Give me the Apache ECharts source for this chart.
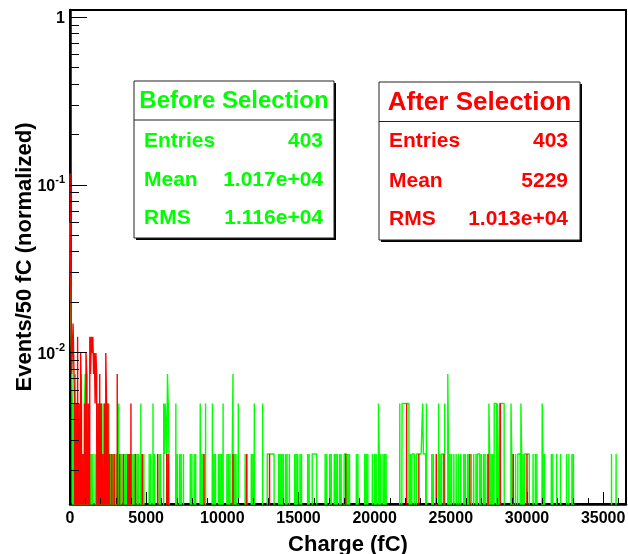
<!DOCTYPE html>
<html><head><meta charset="utf-8">
<script src="https://cdn.jsdelivr.net/npm/echarts@6/dist/echarts.min.js"></script>
<style>html,body{margin:0;padding:0;background:#fff}#c{width:628px;height:554px}</style>
</head><body><div id="c"></div>
<script>
// ---- data ----
const BIN_WIDTH = 50;          // fC per bin
const N_BINS = 730;            // 0 .. 36500 fC
const ENTRIES = 403;           // normalisation (entries)
const Y_MIN = 0.00125, Y_MAX = 1.1;
const X_MAX = 36500;
const EMPTY = 1e-6;            // empty bin, below the visible range

const xMinorTickValues = [1000,2000,3000,4000,6000,7000,8000,9000,11000,12000,13000,14000,16000,17000,18000,19000,21000,22000,23000,24000,26000,27000,28000,29000,31000,32000,33000,34000,36000];
const yMajorTickValues = [0.01, 0.1, 1];
const yMinorTickValues = [0.002,0.003,0.004,0.005,0.006,0.007,0.008,0.009,0.02,0.03,0.04,0.05,0.06,0.07,0.08,0.09,0.2,0.3,0.4,0.5,0.6,0.7,0.8,0.9];

// [bin index, entries] "Before Selection"
const greenCounts = [
[0,24],[1,6],[2,4],[3,2],[5,2],[7,3],[9,1],[10,2],[12,1],[14,2],[15,3],[17,1],[19,2],[20,3],[22,3],[24,1],[26,1],[28,1],[30,1],[31,1],[33,1],[35,1],[37,2],[38,2],[40,2],[42,2],[43,2],[45,2],[47,1],[49,2],[51,2],[53,1],[55,1],[57,1],[59,1],[61,1],[64,2],[66,1],[68,1],[69,1],[71,1],[73,1],[75,1],[77,1],[79,1],
[81,1],[83,1],[85,1],[86,1],[88,1],[90,1],[91,1],[93,2],[95,1],[97,1],[98,1],[104,1],[106,1],[107,1],[109,2],[111,1],[112,1],[117,1],[119,1],[123,2],[124,1],[125,2],[126,2],[127,1],[128,3],[129,2],[130,1],[139,2],[141,1],[142,1],[144,1],[146,1],[147,1],[149,1],[158,1],[160,1],[161,1],[163,1],[165,1],[171,2],[173,1],[175,1],[176,1],[178,2],[187,2],[189,1],[191,1],[192,1],[195,1],[197,1],[199,1],[201,2],[206,1],[208,1],[210,1],[213,1],[214,3],[216,1],[218,1],[219,1],[221,2],[230,1],[232,1],[233,1],[238,1],[240,1],[242,2],
[253,2],[259,1],[260,1],[261,1],[262,1],[263,1],[264,1],[265,1],[266,1],[267,1],[274,1],[276,1],[278,1],[280,1],[281,1],[283,1],[285,1],[286,1],[288,1],[289,1],[295,1],[297,1],[299,1],[302,1],[304,1],[312,1],[314,1],[318,1],[319,1],[320,1],[321,1],[322,1],[323,1],[335,1],[337,1],[341,1],[343,1],[344,1],[347,1],[349,1],[351,1],[352,1],[354,1],[356,1],[357,1],[360,1],[361,1],[362,1],[363,1],[365,1],[367,1],[376,1],[378,1],[379,1],[387,1],[389,1],[391,1],[397,1],[398,1],[400,1],[402,1],[403,1],[405,2],[406,1],[408,1],[409,1],[411,1],[413,1],[415,1],[416,1],[433,2],[436,2],[437,2],[438,2],[439,2],[440,2],[441,2],[442,2],[443,2],[444,2],[445,1],[447,1],[449,1],[450,1],[451,1],[455,1],[456,1],[457,1],[458,1],[459,1],[460,1],[461,1],[462,1],[463,2],[464,1],[465,1],[466,1],[468,2],[475,1],[477,1],[481,1],[482,1],[484,2],[486,1],
[488,1],[489,1],[490,1],[492,2],[496,3],[497,1],[499,1],[501,1],[504,1],[505,1],[507,1],[508,1],[510,1],[511,1],[513,1],[517,1],[519,1],[520,1],[522,1],[524,1],[525,1],[527,1],[528,1],[530,1],[531,1],[533,1],[535,1],[536,1],[537,1],[540,1],[541,1],[543,1],[545,1],[546,1],[548,1],[550,2],[551,1],[553,1],[555,1],[557,2],[558,2],[559,2],[561,2],[562,1],[564,2],[565,2],[566,2],[567,2],[568,2],[569,2],[570,1],[571,1],[579,2],[580,1],[582,1],[583,1],[585,1],[588,1],[589,1],[590,1],[592,2],[593,1],[595,1],[597,1],[598,1],[599,1],[600,1],[601,1],[602,1],[608,1],[609,1],[611,1],[613,1],[614,1],[620,2],[621,1],[623,1],[632,1],[634,1],[639,1],[644,1],[652,1],[653,1],[655,1],[659,1],[661,1],[711,1],[717,1]
];

// [bin index, entries] "After Selection"
const redCounts = [
[0,47],[1,11],[2,3],[3,4],[4,6],[5,6],[6,2],[8,2],[10,5],[12,2],[14,4],[15,2],[17,1],[19,2],[21,4],[22,3],[24,2],[26,5],[27,3],[28,5],[29,4],[30,5],[31,3],[32,4],[33,2],[34,4],[35,3],[37,2],[39,3],[41,2],[43,1],[45,2],[47,4],[48,2],[50,2],[52,1],[55,1],[58,1],[62,3],[65,1],[70,1],[76,1],[78,1],[80,2],[86,1],[95,1],[115,1],[127,1],[129,1],[130,1],[176,1],[214,1],[232,1],[262,1],[362,1],[442,2],[458,1],[481,1],[491,1],[525,1],[549,1],[565,2],[582,1],[600,1],[601,1]
];

const statNames = ['Entries', 'Mean', 'RMS'];
const beforeStats = ['403', '1.017e+04', '1.116e+04'];
const afterStats = ['403', '5229', '1.013e+04'];

// ---- build ----
function histLine(counts) {
  const per = new Array(N_BINS).fill(0);
  counts.forEach(([b, c]) => { per[b] = c; });
  const pts = [];
  for (let i = 0; i < N_BINS; i++) pts.push([i * BIN_WIDTH, per[i] > 0 ? per[i] / ENTRIES : EMPTY]);
  pts.push([N_BINS * BIN_WIDTH, EMPTY]);
  return pts;
}

const FONT = "'Liberation Sans', Arial, Helvetica, sans-serif";
const GREEN = '#00ff00', RED = '#ff0000';

function statBox(left, top, w, h, sepY, title, titleSize, values, color, rowYs, textL, textR) {
  const els = [];
  els.push({ type: 'rect', shape: { x: left + 2, y: top + 2, width: w, height: h }, style: { fill: '#000' }, z: 100 });
  els.push({ type: 'rect', shape: { x: left, y: top, width: w, height: h }, style: { fill: '#fff', stroke: '#222', lineWidth: 1 }, z: 101 });
  els.push({ type: 'line', shape: { x1: left, y1: sepY, x2: left + w, y2: sepY }, style: { stroke: '#222', lineWidth: 1 }, z: 102 });
  els.push({ type: 'text', x: left + w / 2, y: (top + sepY) / 2 + 1, z: 103,
    style: { text: title, fill: color, font: 'bold ' + titleSize + 'px ' + FONT, textAlign: 'center', textVerticalAlign: 'middle', align: 'center', verticalAlign: 'middle' } });
  statNames.forEach((n, i) => {
    els.push({ type: 'text', x: textL, y: rowYs[i], z: 103,
      style: { text: n, fill: color, font: 'bold 21px ' + FONT, textAlign: 'left', textVerticalAlign: 'middle', align: 'left', verticalAlign: 'middle' } });
    els.push({ type: 'text', x: textR, y: rowYs[i], z: 103,
      style: { text: values[i], fill: color, font: 'bold 21px ' + FONT, textAlign: 'right', textVerticalAlign: 'middle', align: 'right', verticalAlign: 'middle' } });
  });
  return els;
}

const chart = echarts.init(document.getElementById('c'), null, { renderer: 'canvas' });
chart.setOption({
  animation: false,
  backgroundColor: '#fff',
  grid: { left: 70, right: 2, top: 10, bottom: 50, show: true, borderColor: '#000', borderWidth: 2, backgroundColor: 'transparent', outerBoundsMode: 'none', containLabel: false },
  xAxis: {
    type: 'value', min: 0, max: X_MAX, interval: 5000,
    name: 'Charge (fC)', nameLocation: 'middle', nameGap: 30, nameMoveOverlap: false,
    nameTextStyle: { fontFamily: FONT, fontWeight: 'bold', fontSize: 22, color: '#000' },
    axisLine: { show: true, lineStyle: { color: '#000', width: 2.5 } },
    axisTick: { show: true, inside: true, length: 12, lineStyle: { color: '#000', width: 1 } },
    axisLabel: { fontFamily: FONT, fontWeight: 'bold', fontSize: 16, color: '#000', margin: 7, showMaxLabel: false, formatter: v => String(v) },
    splitLine: { show: false }
  },
  yAxis: {
    type: 'log', min: Y_MIN, max: Y_MAX, logBase: 10,
    name: 'Events/50 fC (normalized)', nameLocation: 'middle', nameGap: 34, nameMoveOverlap: false,
    nameTextStyle: { fontFamily: FONT, fontWeight: 'bold', fontSize: 22, color: '#000' },
    axisLine: { show: true, lineStyle: { color: '#000', width: 2.5 } },
    axisTick: { show: false },
    axisLabel: {
      margin: 5, color: '#000',
      formatter: v => {
        const l = Math.log10(v), e = Math.round(l);
        if (Math.abs(l - e) > 1e-6) return '';
        if (e === 0) return '{b|1}';
        return '{b|10}{s|' + e + '}';
      },
      rich: {
        b: { fontFamily: FONT, fontWeight: 'bold', fontSize: 16, color: '#000', lineHeight: 20, verticalAlign: 'bottom' },
        s: { fontFamily: FONT, fontWeight: 'bold', fontSize: 11, color: '#000', lineHeight: 12, verticalAlign: 'top' }
      }
    },
    splitLine: { show: false }
  },
  series: [
    { type: 'line', name: 'Before Selection', data: histLine(greenCounts), step: 'end', showSymbol: false, symbol: 'none',
      lineStyle: { color: GREEN, width: 1.4 }, itemStyle: { color: GREEN }, clip: true, silent: true, z: 2 },
    { type: 'line', name: 'After Selection', data: histLine(redCounts), step: 'end', showSymbol: false, symbol: 'none',
      lineStyle: { color: RED, width: 1.4 }, itemStyle: { color: RED }, clip: true, silent: true, z: 3 },
    { type: 'custom', silent: true, z: 5, data: yMajorTickValues.map(v => [0, v]),
      renderItem: (p, api) => { const c = api.coord([0, api.value(1)]); const y = Math.round(c[1]) + 0.5;
        return { type: 'line', shape: { x1: c[0], y1: y, x2: c[0] + 17, y2: y }, style: { stroke: '#000', lineWidth: 1 } }; } },
    { type: 'custom', silent: true, z: 5, data: yMinorTickValues.map(v => [0, v]),
      renderItem: (p, api) => { const c = api.coord([0, api.value(1)]); const y = Math.round(c[1]) + 0.5;
        return { type: 'line', shape: { x1: c[0], y1: y, x2: c[0] + 9, y2: y }, style: { stroke: '#000', lineWidth: 1 } }; } },
    { type: 'custom', silent: true, z: 5, data: xMinorTickValues.map(v => [v, Y_MIN]),
      renderItem: (p, api) => { const c = api.coord([api.value(0), Y_MIN]); const x = Math.round(c[0]) + 0.5;
        return { type: 'line', shape: { x1: x, y1: c[1], x2: x, y2: c[1] - 6 }, style: { stroke: '#000', lineWidth: 1 } }; } }
  ],
  graphic: [].concat(
    statBox(134, 81, 200, 157, 120, 'Before Selection', 24, beforeStats, GREEN, [141, 180, 218.5], 144, 323),
    statBox(379, 82, 201, 158, 121.5, 'After Selection', 26, afterStats, RED, [141, 181, 219], 389, 568)
  )
});
</script>
</body></html>
